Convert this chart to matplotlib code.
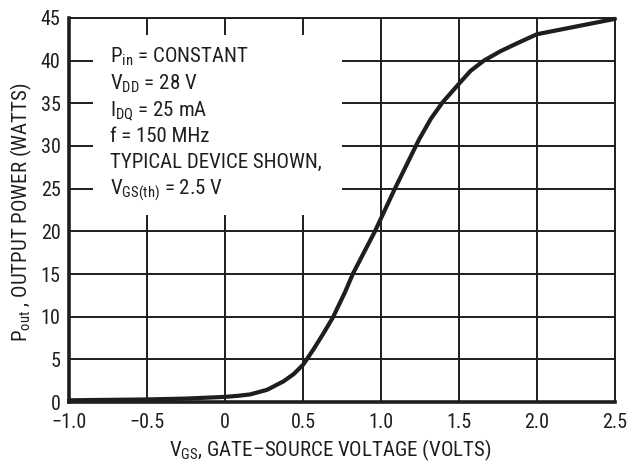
import matplotlib
matplotlib.use("Agg")
import matplotlib.pyplot as plt
from matplotlib.patches import Rectangle

# Data
vgs = [-1.0, -0.75, -0.5, -0.25, 0.0, 0.08, 0.161, 0.27, 0.375, 0.44, 0.5, 0.567,
       0.632, 0.692, 0.77, 0.819, 0.961, 1.089, 1.245, 1.32, 1.394, 1.5, 1.574,
       1.659, 1.765, 1.88, 2.0, 2.25, 2.5]
pout = [0.2, 0.25, 0.3, 0.4, 0.6, 0.72, 0.89, 1.43, 2.42, 3.27, 4.35, 6.16,
        8.07, 9.92, 12.9, 15.0, 20.0, 25.0, 30.8, 33.2, 35.1, 37.3, 38.8,
        40.0, 41.1, 42.1, 43.1, 44.0, 44.9]

xticks = [-1.0, -0.5, 0.0, 0.5, 1.0, 1.5, 2.0, 2.5]
xticklabels = ["\u22121.0", "\u22120.5", "0", "0.5", "1.0", "1.5", "2.0", "2.5"]
yticks = [0, 5, 10, 15, 20, 25, 30, 35, 40, 45]

notes = [
    r"P$_{\mathrm{in}}$ = CONSTANT",
    r"V$_{\mathrm{DD}}$ = 28 V",
    r"I$_{\mathrm{DQ}}$ = 25 mA",
    r"f = 150 MHz",
    r"TYPICAL DEVICE SHOWN,",
    r"V$_{\mathrm{GS(th)}}$ = 2.5 V",
]
xlabel = "V$_{\\mathrm{GS}}$, GATE\u2013SOURCE VOLTAGE (VOLTS)"
ylabel = "P$_{\\mathrm{out}}$ , OUTPUT POWER (WATTS)"

FONT = ["Roboto Condensed", "Liberation Sans", "DejaVu Sans"]
plt.rcParams["font.family"] = FONT
plt.rcParams["mathtext.fontset"] = "custom"
plt.rcParams["mathtext.rm"] = "Roboto Condensed"
plt.rcParams["mathtext.it"] = "Roboto Condensed"
plt.rcParams["mathtext.bf"] = "Roboto Condensed"

ink = "#1e1e1e"
W, H = 632, 462
fig = plt.figure(figsize=(W / 100, H / 100), dpi=100)
L, R, T, B = 69, 615, 18, 402
ax = fig.add_axes([L / W, (H - B) / H, (R - L) / W, (B - T) / H])

ax.set_xlim(-1.0, 2.5)
ax.set_ylim(0, 45)
ax.set_xticks(xticks)
ax.set_xticklabels(xticklabels)
ax.set_yticks(yticks)
ax.tick_params(length=0, labelsize=14.5, colors=ink, pad=6)
ax.tick_params(axis="x", pad=8)
ax.grid(True, color=ink, linewidth=1.4, zorder=1)
ax.set_axisbelow(True)

for side in ["top", "right"]:
    ax.spines[side].set_linewidth(1.4)
    ax.spines[side].set_color(ink)
for side in ["left", "bottom"]:
    ax.spines[side].set_linewidth(2.6)
    ax.spines[side].set_color(ink)

# white box behind the notes (hides grid)
ax.add_patch(Rectangle((-0.846, 21.9), 0.75 + 0.846, 43.0 - 21.9,
                       facecolor="white", edgecolor="none", zorder=2))

ax.plot(vgs, pout, color=ink, linewidth=3.0, solid_joinstyle="round",
        solid_capstyle="round", zorder=3, clip_on=False)

for i, s in enumerate(notes):
    ypx = 63 + 26.3 * i
    ax.text((110 - L) / (R - L), (B - ypx) / (B - T), s, transform=ax.transAxes,
            fontsize=15, color=ink, va="baseline", ha="left", zorder=4)

fig.text(330 / W, 1 - 450 / H, xlabel,
         ha="center", va="center", fontsize=15, color=ink)
fig.text(21 / W, 1 - 212 / H, ylabel,
         ha="center", va="center", rotation=90, fontsize=15, color=ink)

fig.savefig("out.png", dpi=100)
